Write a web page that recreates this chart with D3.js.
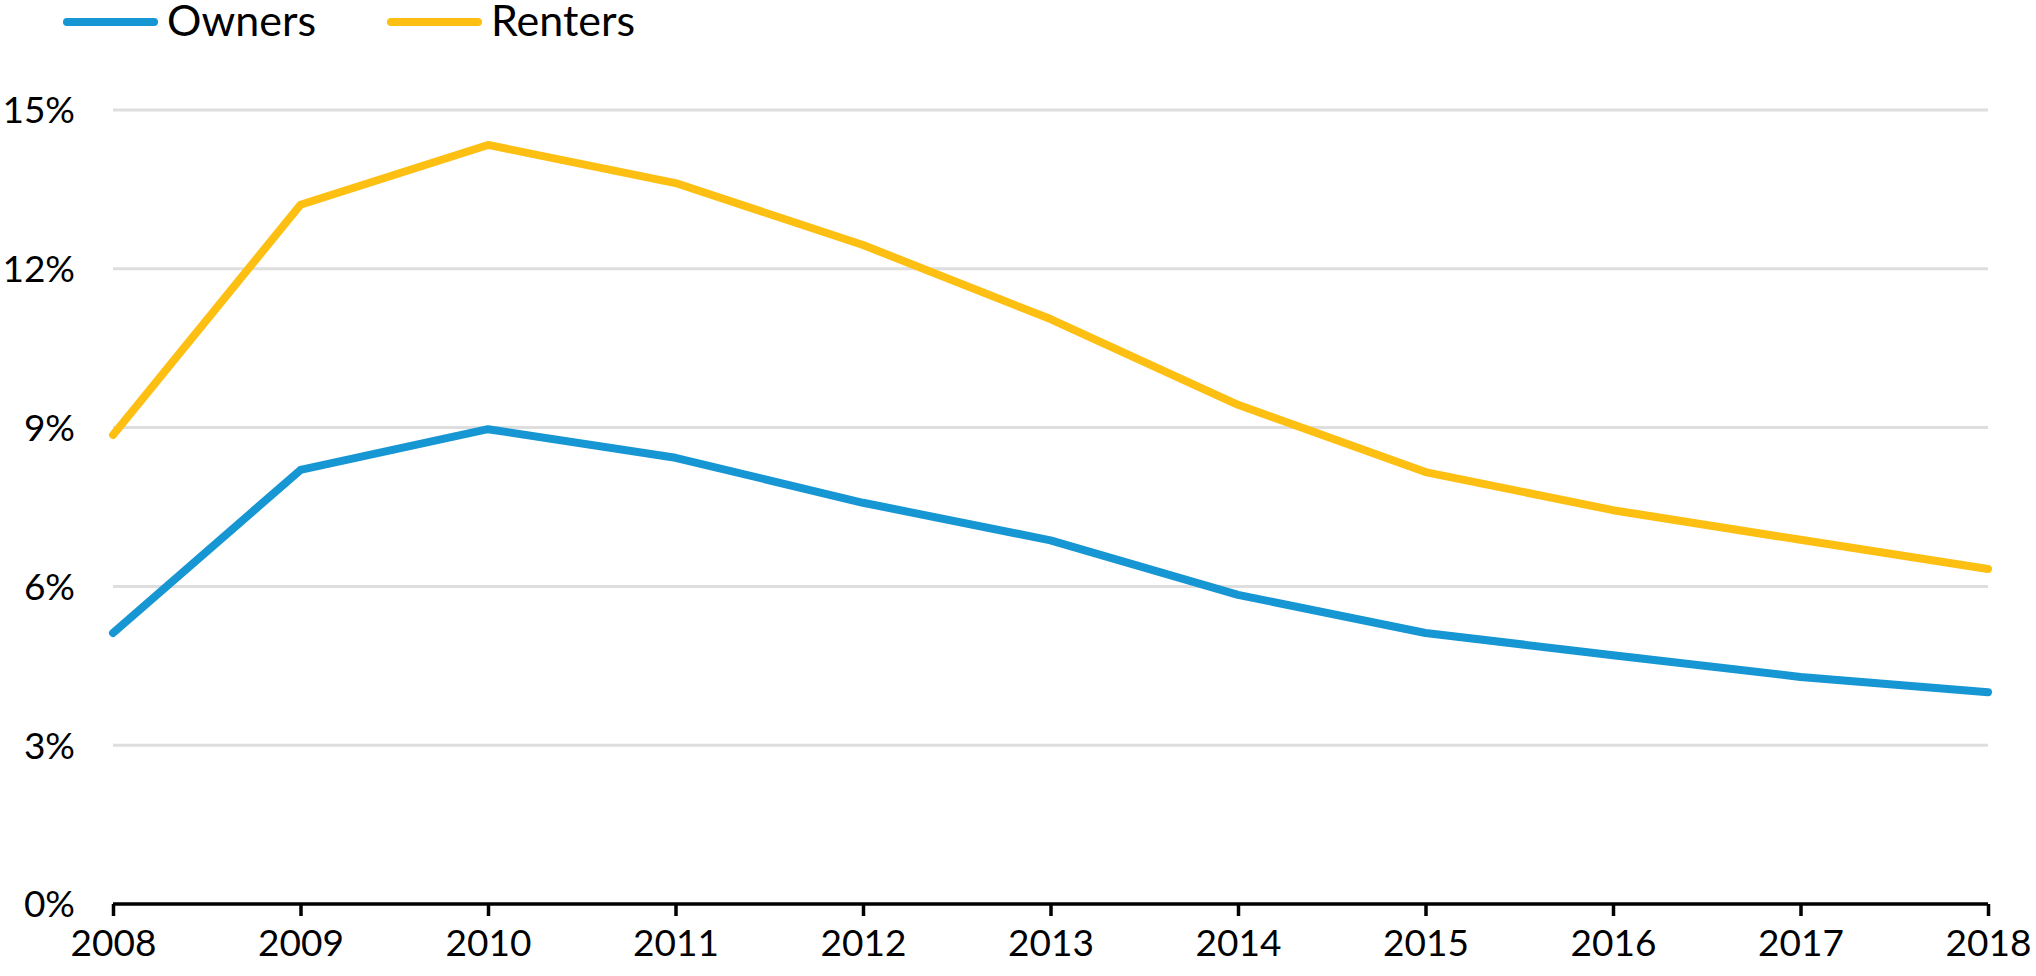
<!DOCTYPE html>
<html>
<head>
<meta charset="utf-8">
<script src="https://cdn.jsdelivr.net/npm/d3@7"></script>
<style>
  html, body { margin: 0; padding: 0; background: #fff; }
  svg { display: block; font-family: Lato, "Open Sans", sans-serif; }
</style>
</head>
<body>
<svg id="chart" width="2036" height="976"></svg>
<script>
const years = [2008, 2009, 2010, 2011, 2012, 2013, 2014, 2015, 2016, 2017, 2018];
const owners = [5.12, 8.2, 8.97, 8.43, 7.58, 6.87, 5.84, 5.12, 4.70, 4.29, 4.00];
const renters = [8.86, 13.21, 14.34, 13.62, 12.45, 11.05, 9.43, 8.16, 7.44, 6.88, 6.33];
const yTicks = [0, 3, 6, 9, 12, 15];
const seriesNames = ["Owners", "Renters"];
const seriesColors = ["#1696d2", "#fdbf11"];

(function () {
const svg = d3.select("#chart");
const mLeft = 113, mRight = 1988, mTop = 110, mBottom = 904;

const x = d3.scaleLinear().domain([2008, 2018]).range([mLeft, mRight]);
const y = d3.scaleLinear().domain([0, 15]).range([mBottom, mTop]);

// gridlines
svg.append("g").selectAll("line")
  .data(yTicks.filter(d => d > 0))
  .join("line")
  .attr("x1", mLeft).attr("x2", mRight)
  .attr("y1", d => y(d)).attr("y2", d => y(d))
  .attr("stroke", "#dedede").attr("stroke-width", 3);

// y labels
svg.append("g").selectAll("text")
  .data(yTicks)
  .join("text")
  .attr("x", 75).attr("y", d => y(d))
  .attr("dy", "0.36em")
  .attr("text-anchor", "end")
  .attr("font-size", 37)
  .attr("fill", "#000")
  .text(d => d + "%");

// x axis
const xAxis = d3.axisBottom(x)
  .tickValues(years)
  .tickFormat(d3.format("d"))
  .tickSize(12)
  .tickPadding(14);
const gx = svg.append("g").attr("transform", `translate(0,${mBottom})`).call(xAxis);
gx.select(".domain").attr("stroke", "#000").attr("stroke-width", 3.5)
  .attr("d", `M${mLeft},0H${mRight}`);
gx.selectAll(".tick line").attr("stroke", "#000").attr("stroke-width", 3.5);
gx.selectAll(".tick text").attr("font-size", 37).attr("fill", "#000")
  .attr("font-family", "Lato, sans-serif");

// lines
const line = d3.line().x((d, i) => x(years[i])).y(d => y(d));
[owners, renters].forEach((s, i) => {
  svg.append("path")
    .datum(s)
    .attr("d", line)
    .attr("fill", "none")
    .attr("stroke", seriesColors[i])
    .attr("stroke-width", 8)
    .attr("stroke-linejoin", "round")
    .attr("stroke-linecap", "round");
});

// legend
const legendX = [67, 391];
const legend = svg.append("g");
seriesNames.forEach((name, i) => {
  legend.append("line")
    .attr("x1", legendX[i]).attr("x2", legendX[i] + 87)
    .attr("y1", 22).attr("y2", 22)
    .attr("stroke", seriesColors[i]).attr("stroke-width", 8)
    .attr("stroke-linecap", "round");
  legend.append("text")
    .attr("x", legendX[i] + 100).attr("y", 36)
    .attr("font-size", 43).attr("fill", "#000")
    .text(name);
});
})();
</script>
</body>
</html>
